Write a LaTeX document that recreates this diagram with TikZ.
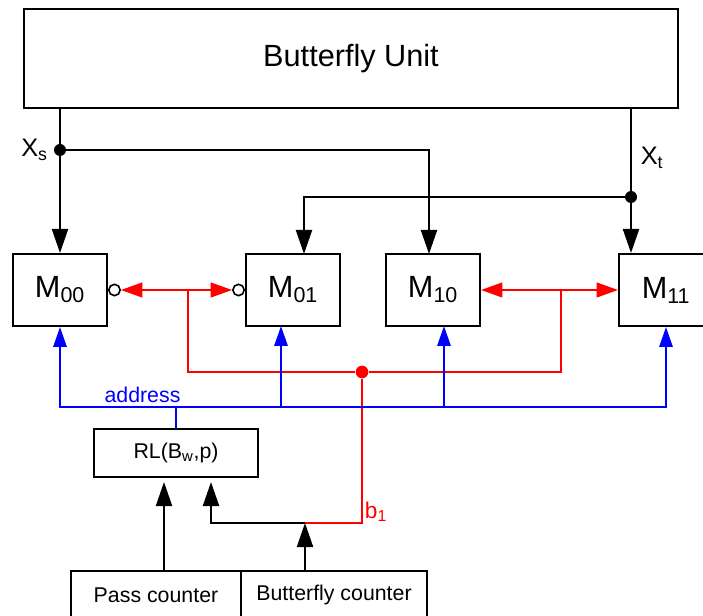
\documentclass[tikz,border=0pt]{standalone}
\usepackage{fontspec}
\setmainfont{Liberation Sans}
\usepackage{tikz}
\usetikzlibrary{arrows.meta,positioning,calc}
\definecolor{busblue}{HTML}{0000FF}
\definecolor{ctlred}{HTML}{FF0000}

\tikzset{
  box/.style={draw,line width=1.5pt,inner sep=0pt},
  wire/.style={line width=1.5pt},
  arr/.style={wire,-{Triangle[length=18pt,width=12pt]}},
  ctl/.style={wire,ctlred,{Triangle[length=16pt,width=11pt]}-{Triangle[length=16pt,width=11pt]}},
  bus/.style={wire,busblue,-{Triangle[length=15pt,width=10pt]}},
  dot/.style={circle,fill,inner sep=0pt,minimum size=9pt},
  bubble/.style={circle,draw,fill=white,line width=1.2pt,inner sep=0pt,minimum size=8.5pt},
  big/.style={font=\fontsize{23pt}{27pt}\selectfont},
  mid/.style={font=\fontsize{16pt}{19pt}\selectfont}
}

\begin{document}
\begin{tikzpicture}[x=0.75pt,y=-0.75pt]
\useasboundingbox (0,0) rectangle (703,616);
\clip (0,0) rectangle (703,616);
% boxes
\node[box,big,minimum width=490.5pt,minimum height=74.25pt] (bu) at (351,58.5) {Butterfly Unit};
\node[box,big,minimum width=70.5pt,minimum height=54pt] (m00) at (60,290) {M\textsubscript{00}};
\node[box,big,minimum width=70.5pt,minimum height=54pt] (m01) at (293,290) {M\textsubscript{01}};
\node[box,big,minimum width=70.5pt,minimum height=54pt] (m10) at (433,290) {M\textsubscript{10}};
\node[box,big,minimum width=70.5pt,minimum height=54pt] (m11) at (666,290) {M\textsubscript{11}};
\node[box,mid,minimum width=123pt,minimum height=36pt] (rl) at (176,453) {RL(B\textsubscript{w},p)};
\node[box,mid,minimum width=127.5pt,minimum height=36pt] (pass) at (156,595) {Pass counter};
\node[box,mid,minimum width=139.5pt,minimum height=36pt] (bfly) at (334,595) {Butterfly counter};
\node[bubble,anchor=west] (b00) at (m00.east) {};
\node[bubble,anchor=east] (b01) at (m01.west) {};

% data paths
\node[dot] (xs) at (60,150) {};
\node[dot] (xt) at (631,197) {};
\coordinate (t01) at (304,254);
\coordinate (t10) at (429,254);
\draw[arr] (bu.south -| m00.north) -- (m00.north);
\draw[arr] (xs) -| (t10);
\draw[arr] (bu.south -| xt) -- (xt |- m11.north);
\draw[arr] (xt) -| (t01);
\node[left=1pt of xs,font=\fontsize{19pt}{22pt}\selectfont] (xslbl) {X\textsubscript{s}};
\node[font=\fontsize{19pt}{22pt}\selectfont] (xtlbl) at (652,158) {X\textsubscript{t}};

% control
\coordinate (j0) at (188,290);
\coordinate (j1) at (561,290);
\node[dot,ctlred,minimum size=9.5pt] (rdot) at (362,372) {};
\coordinate (bj) at (305,523);
\draw[ctl] (b00) -- (b01);
\draw[ctl] (m10) -- (m11);
\draw[wire,ctlred] (j0) |- (rdot) -| (j1);
\draw[wire,ctlred] (rdot) |- (bj);
\node[ctlred,font=\fontsize{17pt}{20pt}\selectfont] (b1lbl) at (376,512) {b\textsubscript{1}};

% counters
\coordinate (rl1) at (164,482);
\coordinate (rl2) at (211,482);
\draw[arr] (pass.north -| rl1) -- (rl1);
\draw[arr] (bj) -| (rl2);
\draw[arr] (bfly.north -| bj) -- (bj);

% address bus
\coordinate (addr) at (176,407);
\coordinate (a01) at (281,326);
\coordinate (a10) at (444,326);
\draw[wire,busblue] (rl.north) -- (addr);
\draw[bus] (addr) -| (m00.south);
\draw[bus] (addr) -| (a01);
\draw[bus] (addr) -| (a10);
\draw[bus] (addr) -| (m11.south);
\node[busblue,mid] (addrlbl) at (142.5,395) {address};
\end{tikzpicture}
\end{document}
